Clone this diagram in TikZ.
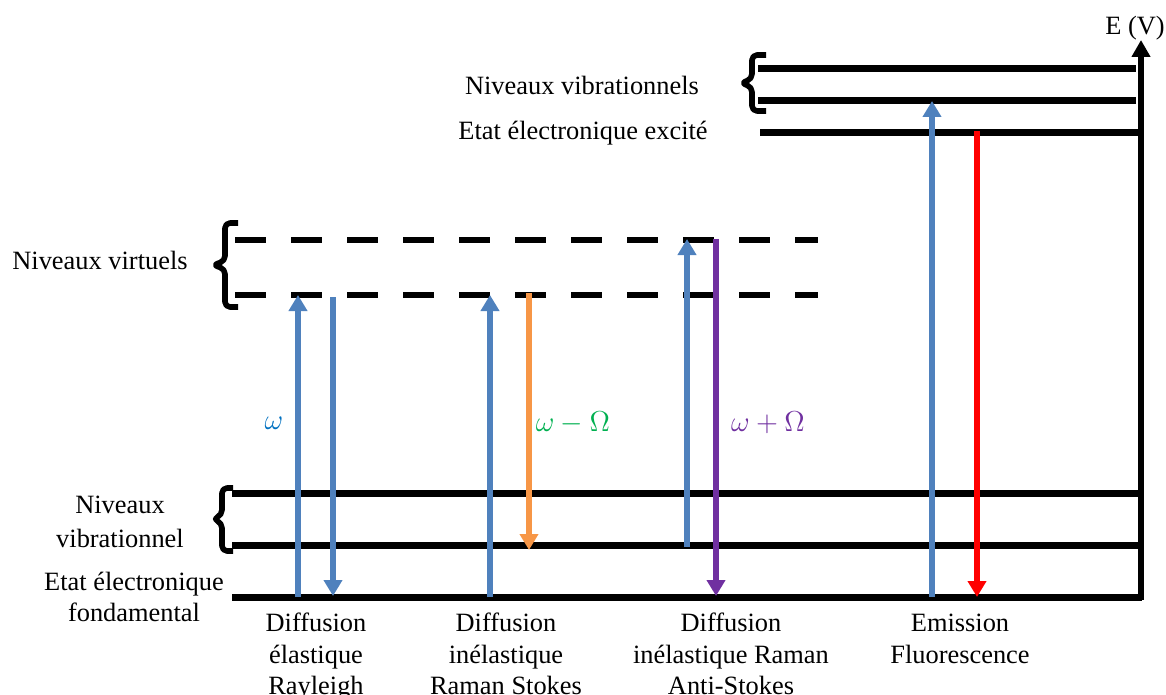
\documentclass[tikz,border=0pt]{standalone}
\usepackage{fontspec}
\setmainfont{Liberation Serif}
\usetikzlibrary{arrows.meta}
\definecolor{beam}{HTML}{4F81BD}
\definecolor{stokes}{HTML}{F79646}
\definecolor{antistokes}{HTML}{7030A0}
\definecolor{fluo}{HTML}{FF0000}
\definecolor{lblblue}{HTML}{0070C0}
\definecolor{lblgreen}{HTML}{00B050}
\begin{document}
\begin{tikzpicture}[x=0.5pt,y=-0.5pt,
  level/.style={line width=3.5pt},
  virtlevel/.style={line width=3.3pt,dash pattern=on 15.5pt off 12.5pt},
  bracket/.style={line width=2.8pt,rounded corners=2.5pt,line join=round},
  photon/.style={line width=2.8pt,-{Triangle[length=8pt,width=9pt]}},
  lbl/.style={font=\fontsize{13.2}{15.6}\selectfont,align=center,inner sep=0pt},
  mlbl/.style={font=\fontsize{14}{16}\selectfont,inner sep=0pt}]
\useasboundingbox (0,0) rectangle (1166,695);

% energy axis
\coordinate (ax0) at (1141,600);
\coordinate (ax1) at (1141,40);
\draw[line width=3pt,-{Triangle[length=8.5pt,width=9pt]}] (ax0) -- (ax1);
\node[lbl] (axlbl) at (1135,28) {E (V)};

% ground state and its vibrational levels
\draw[level] (232,597) -- (1142,597);
\draw[level] (232,545) -- (1140,545);
\draw[level] (232,493) -- (1140,493);

% virtual levels
\draw[virtlevel] (235,240) -- (818,240);
\draw[virtlevel] (235,295) -- (818,295);

% excited state and its vibrational levels
\draw[level] (760,133) -- (1138,133);
\draw[level] (758,101) -- (1136,101);
\draw[level] (758,69) -- (1136,69);

% brackets grouping the levels
\draw[bracket] (766,55) -- (752,55) -- (752,79) -- (741,83) -- (752,87) -- (752,111) -- (766,111);
\draw[bracket] (238,223) -- (225,223) -- (225,261) -- (213,265) -- (225,269) -- (225,307) -- (238,307);
\draw[bracket] (233,488) -- (222,488) -- (222,515) -- (213,519) -- (222,523) -- (222,551) -- (233,551);

% transition end points
\coordinate (ray0) at (298,597);  \coordinate (ray1) at (298,295);
\coordinate (ray2) at (333,297);  \coordinate (ray3) at (333,596);
\coordinate (sto0) at (490,597);  \coordinate (sto1) at (490,295);
\coordinate (sto2) at (529,293);  \coordinate (sto3) at (529,550);
\coordinate (ast0) at (687,547);  \coordinate (ast1) at (687,239);
\coordinate (ast2) at (716,239);  \coordinate (ast3) at (716,596);
\coordinate (flu0) at (932,597);  \coordinate (flu1) at (932,101);
\coordinate (flu2) at (977,131);  \coordinate (flu3) at (977,597);

% transitions
\draw[photon,beam] (ray0) -- (ray1);
\draw[photon,beam] (ray2) -- (ray3);
\draw[photon,beam] (sto0) -- (sto1);
\draw[photon,stokes] (sto2) -- (sto3);
\draw[photon,beam] (ast0) -- (ast1);
\draw[photon,antistokes] (ast2) -- (ast3);
\draw[photon,beam] (flu0) -- (flu1);
\draw[photon,fluo] (flu2) -- (flu3);

% frequency labels
\node[mlbl,text=lblblue] (wlbl) at (274,423) {$\omega$};
\node[mlbl,text=lblgreen] (wmlbl) at (573,423) {$\omega-\Omega$};
\node[mlbl,text=antistokes] (wplbl) at (768,423) {$\omega+\Omega$};

% level names
\node[lbl] (virt) at (100,260) {Niveaux virtuels};
\node[lbl] (exvib) at (582,85) {Niveaux vibrationnels};
\node[lbl] (exc) at (583,133) {Etat électronique excité};
\node[lbl,font=\fontsize{13.2}{17}\selectfont] (gvib) at (120,522) {Niveaux\\vibrationnel};
\node[lbl] (gnd) at (134,597) {Etat électronique\\fondamental};

% process names
\node[lbl,anchor=north] (p1) at (316,613) {Diffusion\\élastique\\Rayleigh};
\node[lbl,anchor=north] (p2) at (506,613) {Diffusion\\inélastique\\Raman Stokes};
\node[lbl,anchor=north] (p3) at (731,613) {Diffusion\\inélastique Raman\\Anti-Stokes};
\node[lbl,anchor=north] (p4) at (960,614) {Emission\\Fluorescence};
\end{tikzpicture}
\end{document}
